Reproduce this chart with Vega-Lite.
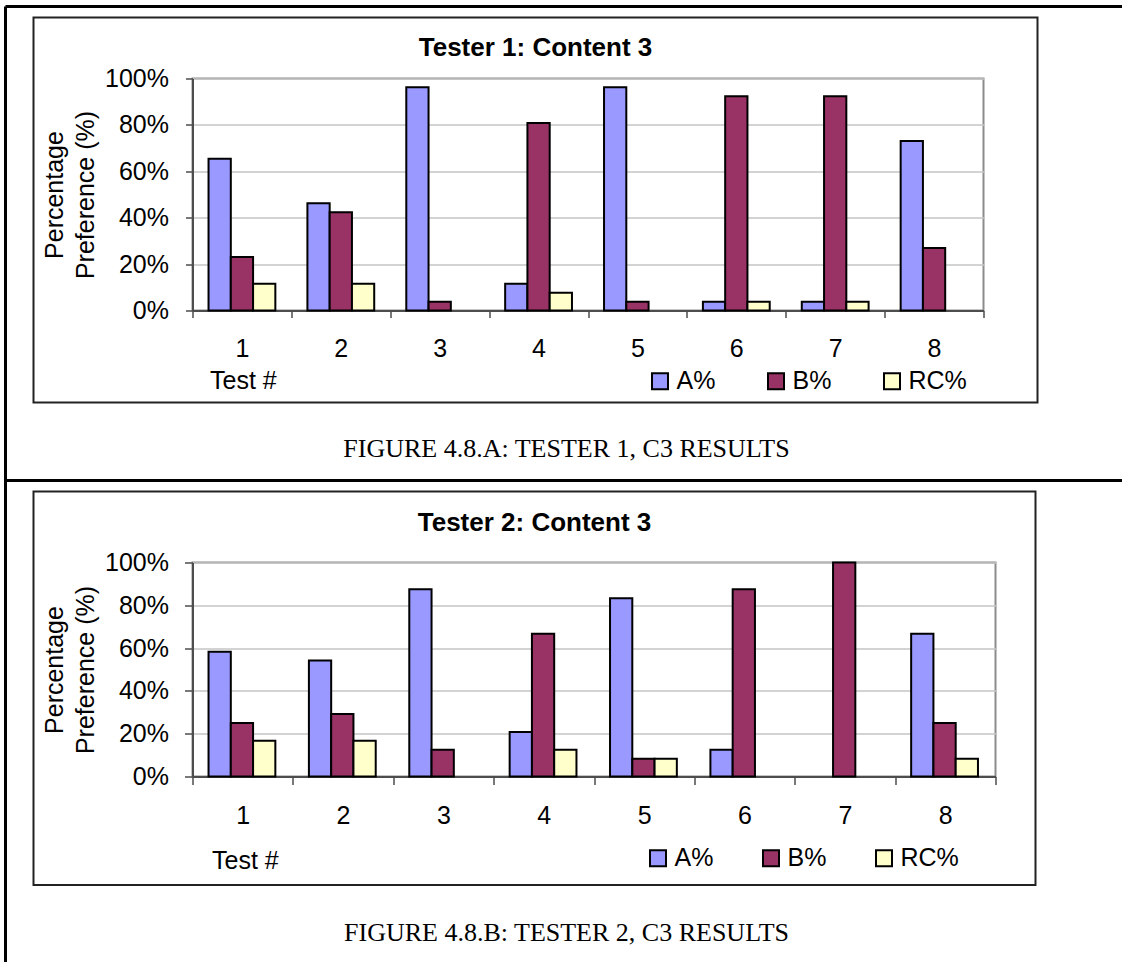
{
  "$schema": "https://vega.github.io/schema/vega-lite/v6.json",
  "background": "white",
  "padding": {"left": 2.5, "top": 3.5, "right": 0, "bottom": 0},
  "spacing": -8,
  "resolve": {"scale": {"fill": "independent"}, "legend": {"fill": "independent"}},
  "config": {
    "font": "Liberation Sans",
    "view": {"stroke": "#8c8c8c", "strokeWidth": 2},
    "axis": {
      "domainColor": "#4d4d4d",
      "domainWidth": 2,
      "tickColor": "#4d4d4d",
      "tickWidth": 1.5,
      "labelColor": "black",
      "titleColor": "black",
      "labelFontSize": 25,
      "titleFontSize": 25,
      "titleFontWeight": "normal",
      "gridColor": "#c4c4c4",
      "gridWidth": 1.5
    }
  },
  "datasets": {
    "tester1": [
      {"test": 1, "series": "A%", "value": 0.654}, {"test": 1, "series": "B%", "value": 0.231}, {"test": 1, "series": "RC%", "value": 0.115},
      {"test": 2, "series": "A%", "value": 0.462}, {"test": 2, "series": "B%", "value": 0.423}, {"test": 2, "series": "RC%", "value": 0.115},
      {"test": 3, "series": "A%", "value": 0.962}, {"test": 3, "series": "B%", "value": 0.038}, {"test": 3, "series": "RC%", "value": 0},
      {"test": 4, "series": "A%", "value": 0.115}, {"test": 4, "series": "B%", "value": 0.808}, {"test": 4, "series": "RC%", "value": 0.077},
      {"test": 5, "series": "A%", "value": 0.962}, {"test": 5, "series": "B%", "value": 0.038}, {"test": 5, "series": "RC%", "value": 0},
      {"test": 6, "series": "A%", "value": 0.038}, {"test": 6, "series": "B%", "value": 0.923}, {"test": 6, "series": "RC%", "value": 0.038},
      {"test": 7, "series": "A%", "value": 0.038}, {"test": 7, "series": "B%", "value": 0.923}, {"test": 7, "series": "RC%", "value": 0.038},
      {"test": 8, "series": "A%", "value": 0.731}, {"test": 8, "series": "B%", "value": 0.269}, {"test": 8, "series": "RC%", "value": 0}
    ],
    "tester2": [
      {"test": 1, "series": "A%", "value": 0.583}, {"test": 1, "series": "B%", "value": 0.25}, {"test": 1, "series": "RC%", "value": 0.167},
      {"test": 2, "series": "A%", "value": 0.542}, {"test": 2, "series": "B%", "value": 0.292}, {"test": 2, "series": "RC%", "value": 0.167},
      {"test": 3, "series": "A%", "value": 0.875}, {"test": 3, "series": "B%", "value": 0.125}, {"test": 3, "series": "RC%", "value": 0},
      {"test": 4, "series": "A%", "value": 0.208}, {"test": 4, "series": "B%", "value": 0.667}, {"test": 4, "series": "RC%", "value": 0.125},
      {"test": 5, "series": "A%", "value": 0.833}, {"test": 5, "series": "B%", "value": 0.083}, {"test": 5, "series": "RC%", "value": 0.083},
      {"test": 6, "series": "A%", "value": 0.125}, {"test": 6, "series": "B%", "value": 0.875}, {"test": 6, "series": "RC%", "value": 0},
      {"test": 7, "series": "A%", "value": 0}, {"test": 7, "series": "B%", "value": 1.0}, {"test": 7, "series": "RC%", "value": 0},
      {"test": 8, "series": "A%", "value": 0.667}, {"test": 8, "series": "B%", "value": 0.25}, {"test": 8, "series": "RC%", "value": 0.083}
    ],
    "single": [{}]
  },
  "vconcat": [
    {
      "width": 791,
      "height": 232,
      "resolve": {"scale": {"x": "independent", "y": "independent"}},
      "layer": [
        {
          "data": {"name": "tester1"},
          "transform": [{"filter": "datum.value > 0"}],
          "mark": {"type": "bar", "stroke": "black", "strokeWidth": 2},
          "encoding": {
            "x": {"field": "test", "type": "ordinal", "scale": {"domain": [1, 2, 3, 4, 5, 6, 7, 8], "paddingInner": 0, "paddingOuter": 0},
              "axis": {"title": "Test #", "titleX": 17, "titleY": 78, "titleAlign": "left", "titleBaseline": "alphabetic", "titleAnchor": "start", "labelAngle": 0, "labelPadding": 19, "tickSize": 7, "tickBand": "extent", "grid": false}},
            "xOffset": {"field": "series", "type": "nominal", "scale": {"domain": ["A%", "B%", "RC%"], "paddingInner": 0, "paddingOuter": 0.72}},
            "y": {"field": "value", "type": "quantitative", "scale": {"domain": [0, 1], "nice": false},
              "axis": {"values": [0, 0.2, 0.4, 0.6, 0.8, 1], "format": ".0%", "title": ["Percentage", "Preference (%)"], "titleLineHeight": 31, "titlePadding": 6, "labelPadding": 17, "tickSize": 7, "grid": true}},
            "fill": {"field": "series", "type": "nominal",
              "scale": {"domain": ["A%", "B%", "RC%"], "range": ["#9999FF", "#993366", "#FFFFCC"]},
              "legend": {"orient": "none", "legendX": 455, "legendY": 290, "direction": "horizontal", "title": null, "symbolType": "square", "symbolSize": 256, "symbolStrokeColor": "black", "symbolStrokeWidth": 2, "symbolOpacity": 1, "labelFontSize": 25, "labelColor": "black", "labelOffset": 4, "columnPadding": 48, "padding": 0}}
          }
        },
        {
          "data": {"name": "single"},
          "mark": {"type": "rule", "stroke": "black", "strokeWidth": 3, "clip": false},
          "encoding": {
            "x": {"datum": -0.23641, "type": "quantitative", "scale": {"domain": [0, 1]}, "axis": null},
            "x2": {"datum": 1.17699},
            "y": {"datum": 1.31034, "type": "quantitative", "scale": {"domain": [0, 1]}, "axis": null}
          }
        },
        {
          "data": {"name": "single"},
          "mark": {"type": "rule", "stroke": "black", "strokeWidth": 3, "clip": false},
          "encoding": {
            "x": {"datum": -0.23641, "type": "quantitative", "scale": {"domain": [0, 1]}, "axis": null},
            "y": {"datum": 1.31034, "type": "quantitative", "scale": {"domain": [0, 1]}, "axis": null},
            "y2": {"datum": -0.74138}
          }
        },
        {
          "data": {"name": "single"},
          "mark": {"type": "rect", "fill": null, "fillOpacity": 0, "stroke": "#222222", "strokeWidth": 2, "clip": false},
          "encoding": {
            "x": {"datum": -0.20101, "type": "quantitative", "scale": {"domain": [0, 1]}, "axis": null},
            "x2": {"datum": 1.06827},
            "y": {"datum": 1.26293, "type": "quantitative", "scale": {"domain": [0, 1]}, "axis": null},
            "y2": {"datum": -0.39655}
          }
        },
        {
          "data": {"name": "single"},
          "mark": {"type": "text", "font": "Liberation Sans", "fontSize": 26, "fontWeight": "bold", "align": "center", "baseline": "alphabetic", "color": "black", "clip": false},
          "encoding": {
            "x": {"datum": 0.43363, "type": "quantitative", "scale": {"domain": [0, 1]}, "axis": null},
            "y": {"datum": 1.09483, "type": "quantitative", "scale": {"domain": [0, 1]}, "axis": null},
            "text": {"value": "Tester 1: Content 3"}
          }
        },
        {
          "data": {"name": "single"},
          "mark": {"type": "text", "font": "Liberation Serif", "fontSize": 26, "align": "center", "baseline": "alphabetic", "color": "black", "clip": false},
          "encoding": {
            "x": {"datum": 0.47282, "type": "quantitative", "scale": {"domain": [0, 1]}, "axis": null},
            "y": {"datum": -0.63362, "type": "quantitative", "scale": {"domain": [0, 1]}, "axis": null},
            "text": {"value": "FIGURE 4.8.A: TESTER 1, C3 RESULTS"}
          }
        }
      ]
    },
    {
      "width": 803,
      "height": 214,
      "resolve": {"scale": {"x": "independent", "y": "independent"}},
      "layer": [
        {
          "data": {"name": "tester2"},
          "transform": [{"filter": "datum.value > 0"}],
          "mark": {"type": "bar", "stroke": "black", "strokeWidth": 2},
          "encoding": {
            "x": {"field": "test", "type": "ordinal", "scale": {"domain": [1, 2, 3, 4, 5, 6, 7, 8], "paddingInner": 0, "paddingOuter": 0},
              "axis": {"title": "Test #", "titleX": 19, "titleY": 92, "titleAlign": "left", "titleBaseline": "alphabetic", "titleAnchor": "start", "labelAngle": 0, "labelPadding": 19, "tickSize": 8, "tickBand": "extent", "grid": false}},
            "xOffset": {"field": "series", "type": "nominal", "scale": {"domain": ["A%", "B%", "RC%"], "paddingInner": 0, "paddingOuter": 0.72}},
            "y": {"field": "value", "type": "quantitative", "scale": {"domain": [0, 1], "nice": false},
              "axis": {"values": [0, 0.2, 0.4, 0.6, 0.8, 1], "format": ".0%", "title": ["Percentage", "Preference (%)"], "titleLineHeight": 31, "titlePadding": 6, "labelPadding": 16, "tickSize": 8, "grid": true}},
            "fill": {"field": "series", "type": "nominal",
              "scale": {"domain": ["A%", "B%", "RC%"], "range": ["#9999FF", "#993366", "#FFFFCC"]},
              "legend": {"orient": "none", "legendX": 453, "legendY": 283, "direction": "horizontal", "title": null, "symbolType": "square", "symbolSize": 256, "symbolStrokeColor": "black", "symbolStrokeWidth": 2, "symbolOpacity": 1, "labelFontSize": 25, "labelColor": "black", "labelOffset": 4, "columnPadding": 45, "padding": 0}}
          }
        },
        {
          "data": {"name": "single"},
          "mark": {"type": "rule", "stroke": "black", "strokeWidth": 3, "clip": false},
          "encoding": {
            "x": {"datum": -0.23288, "type": "quantitative", "scale": {"domain": [0, 1]}, "axis": null},
            "x2": {"datum": 1.1594},
            "y": {"datum": 1.38318, "type": "quantitative", "scale": {"domain": [0, 1]}, "axis": null}
          }
        },
        {
          "data": {"name": "single"},
          "mark": {"type": "rule", "stroke": "black", "strokeWidth": 3, "clip": false},
          "encoding": {
            "x": {"datum": -0.23288, "type": "quantitative", "scale": {"domain": [0, 1]}, "axis": null},
            "y": {"datum": 1.38318, "type": "quantitative", "scale": {"domain": [0, 1]}, "axis": null},
            "y2": {"datum": -0.8785}
          }
        },
        {
          "data": {"name": "single"},
          "mark": {"type": "rect", "fill": null, "fillOpacity": 0, "stroke": "#222222", "strokeWidth": 2, "clip": false},
          "encoding": {
            "x": {"datum": -0.19801, "type": "quantitative", "scale": {"domain": [0, 1]}, "axis": null},
            "x2": {"datum": 1.04981},
            "y": {"datum": 1.33178, "type": "quantitative", "scale": {"domain": [0, 1]}, "axis": null},
            "y2": {"datum": -0.50701}
          }
        },
        {
          "data": {"name": "single"},
          "mark": {"type": "text", "font": "Liberation Sans", "fontSize": 26, "fontWeight": "bold", "align": "center", "baseline": "alphabetic", "color": "black", "clip": false},
          "encoding": {
            "x": {"datum": 0.4259, "type": "quantitative", "scale": {"domain": [0, 1]}, "axis": null},
            "y": {"datum": 1.14486, "type": "quantitative", "scale": {"domain": [0, 1]}, "axis": null},
            "text": {"value": "Tester 2: Content 3"}
          }
        },
        {
          "data": {"name": "single"},
          "mark": {"type": "text", "font": "Liberation Serif", "fontSize": 26, "align": "center", "baseline": "alphabetic", "color": "black", "clip": false},
          "encoding": {
            "x": {"datum": 0.46575, "type": "quantitative", "scale": {"domain": [0, 1]}, "axis": null},
            "y": {"datum": -0.76636, "type": "quantitative", "scale": {"domain": [0, 1]}, "axis": null},
            "text": {"value": "FIGURE 4.8.B: TESTER 2, C3 RESULTS"}
          }
        }
      ]
    }
  ]
}
